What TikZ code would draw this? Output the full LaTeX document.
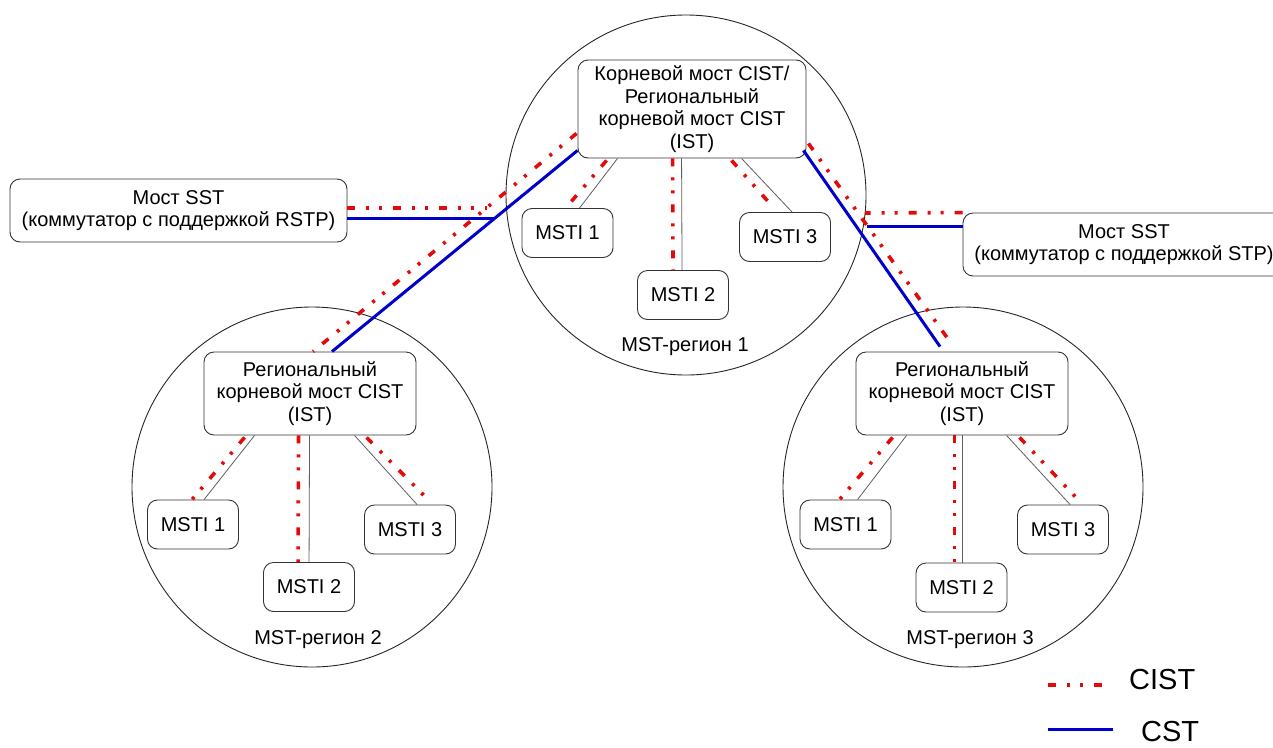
\documentclass[tikz,border=0pt]{standalone}
\usepackage{fontspec}
\setmainfont{Liberation Sans}
\usetikzlibrary{calc}
\definecolor{cistred}{RGB}{228,10,10}
\definecolor{cstblue}{RGB}{0,0,205}
\definecolor{thin}{RGB}{95,95,95}
\begin{document}
\begin{tikzpicture}[x=1pt,y=-1pt,
  box/.style={draw=black!80,line width=0.9pt,rounded corners=10pt,fill=white,
    inner sep=0pt,align=center,font=\fontsize{20}{22.5}\selectfont},
  msti/.style={box,minimum width=91pt,minimum height=49pt},
  region/.style={draw=black!85,line width=0.9pt,circle,inner sep=0pt,minimum size=360pt},
  rlabel/.style={font=\fontsize{20}{22.5}\selectfont,inner sep=0pt},
  cist/.style={draw=cistred,line width=3.6pt,dash pattern=on 8pt off 11pt on 3pt off 10pt on 3pt off 11pt},
  cst/.style={draw=cstblue,line width=3pt},
  link/.style={draw=thin,line width=0.8pt},
  legtext/.style={font=\fontsize{29}{32}\selectfont,inner sep=0pt}]
\fill[white] (0,0) rectangle (1273,747);
\useasboundingbox (0,0) rectangle (1273,747);
\clip (0,0) rectangle (1273,747);

% regions
\node[region] (C1) at (686,195) {};
\node[region] (C2) at (312,487) {};
\node[region] (C3) at (963,487) {};
\node[rlabel] (L1) at (685,347) {MST-регион 1};
\node[rlabel] (L2) at (318,640) {MST-регион 2};
\node[rlabel] (L3) at (970,640) {MST-регион 3};

% junction points
\coordinate (jLb) at (495,218);
\coordinate (jLr) at (487,208);
\coordinate (jRb) at (867,226);
\coordinate (jRr) at (865,213);

% bridge boxes
\node[box,minimum width=228pt,minimum height=98pt] (R1) at (692,109)
  {Корневой мост CIST/\\Региональный\\корневой мост CIST\\(IST)};
\node[box,minimum width=212pt,minimum height=83pt] (R2) at (310,393.5)
  {Региональный\\корневой мост CIST\\(IST)};
\node[box,minimum width=212pt,minimum height=83pt] (R3) at (962,393.5)
  {Региональный\\корневой мост CIST\\(IST)};
\node[box,minimum width=337pt,minimum height=63pt] (S1) at (178.5,210.5)
  {Мост SST\\(коммутатор с поддержкой RSTP)};
\node[box,minimum width=322pt,minimum height=63pt] (S2) at (1124,244.5)
  {Мост SST\\(коммутатор с поддержкой STP)};

\node[msti] (M11) at (567.5,233) {MSTI 1};
\node[msti] (M12) at (683,295) {MSTI 2};
\node[msti] (M13) at (785,237) {MSTI 3};
\node[msti] (M21) at (193,524.5) {MSTI 1};
\node[msti] (M22) at (309,587) {MSTI 2};
\node[msti] (M23) at (410,529.5) {MSTI 3};
\node[msti] (M31) at (845.5,524.5) {MSTI 1};
\node[msti] (M32) at (961.5,587.5) {MSTI 2};
\node[msti] (M33) at (1063,529.5) {MSTI 3};

% inter-region links
\draw[cist] ($(R1.south west)+(-1,-25)$) -- ($(R2.north)+(3,0)$);
\draw[cst] ($(R1.south west)+(0,-8)$) -- ($(R2.north)+(22,0)$);
\draw[cist] ($(R1.south east)+(2,-15)$) -- ($(R3.north)+(-10,-7)$);
\draw[cst] ($(R1.south east)+(-3,-8)$) -- ($(R3.north)+(-22,-5)$);
\draw[cist] ($(S1.east)+(0,-2.5)$) -- (jLr);
\draw[cst] ($(S1.east)+(0,7.5)$) -- (jLb);
\draw[cist] (S2.north west) -- (jRr);
\draw[cst] ($(S2.west)+(0,-18.5)$) -- (jRb);

% region 1 internal
\draw[link] ($(R1.south west)+(40,0)$) -- ($(M11.north west)+(58,0)$);
\draw[cist] ($(R1.south west)+(29,2)$) -- ($(M11.north west)+(45,-1)$);
\draw[link] ($(R1.south west)+(104,0)$) -- ($(M12.north west)+(45,0)$);
\draw[cist] ($(R1.south west)+(95,0)$) -- ($(M12.north west)+(36,0)$);
\draw[link] ($(R1.south west)+(164,0)$) -- ($(M13.north west)+(53,0)$);
\draw[cist] ($(R1.south west)+(154,2)$) -- ($(M13.north west)+(34,-5)$);

% region 2 internal
\draw[link] ($(R2.south west)+(51,0)$) -- ($(M21.north west)+(57,0)$);
\draw[cist] ($(R2.south west)+(41,2)$) -- ($(M21.north west)+(45,0)$);
\draw[link] ($(R2.south west)+(106,0)$) -- ($(M22.north west)+(46,0)$);
\draw[cist] ($(R2.south west)+(95,0)$) -- ($(M22.north west)+(35,0)$);
\draw[link] ($(R2.south west)+(151,0)$) -- ($(M23.north west)+(53,0)$);
\draw[cist] ($(R2.south west)+(163,2)$) -- ($(M23.north west)+(61,-8)$);

% region 3 internal
\draw[link] ($(R3.south west)+(51,0)$) -- ($(M31.north west)+(58,0)$);
\draw[cist] ($(R3.south west)+(37,2)$) -- ($(M31.north west)+(40,0)$);
\draw[link] ($(R3.south west)+(107,0)$) -- ($(M32.north west)+(47,0)$);
\draw[cist] ($(R3.south west)+(99,0)$) -- ($(M32.north west)+(39,0)$);
\draw[link] ($(R3.south west)+(151,0)$) -- ($(M33.north west)+(53,0)$);
\draw[cist] ($(R3.south west)+(164,2)$) -- ($(M33.north west)+(58,-8)$);

% legend
\coordinate (lg1a) at (1048,685);
\coordinate (lg1b) at (1113,685);
\coordinate (lg2a) at (1048,729);
\coordinate (lg2b) at (1113,729);
\draw[cist] (lg1a) -- (lg1b);
\draw[cst] (lg2a) -- (lg2b);
\node[legtext,anchor=west] (T1) at (1129,680) {CIST};
\node[legtext,anchor=west] (T2) at (1141,732) {CST};
\end{tikzpicture}
\end{document}
